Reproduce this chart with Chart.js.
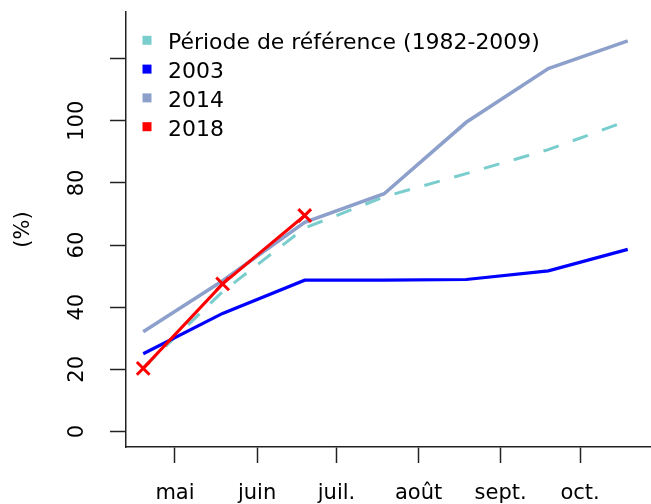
<!DOCTYPE html>
<html><head><meta charset="utf-8">
<script src="https://cdn.jsdelivr.net/npm/chart.js@4.4.1/dist/chart.umd.min.js"></script>
<style>html,body{margin:0;padding:0;background:#fff;overflow:hidden;} #wrap{width:651px;height:504px;}</style>
</head><body><div id="wrap"><canvas id="c" width="651" height="504"></canvas></div>
<script>
// x positions: day of year of each monthly value (about the 19th of Apr..Oct)
const dayOfYear = [109, 139, 170, 200, 231, 262, 292];
// month ticks (1st of month, day of year) and their labels
const monthTickDays = [121, 152, 182, 213, 244, 274];
const monthLabels = ['mai', 'juin', 'juil.', 'août', 'sept.', 'oct.'];
const yTicks = [0, 20, 40, 60, 80, 100, 120];
const yTickLabels = ['0', '20', '40', '60', '80', '100', ''];
const seriesNames = ['Période de référence (1982-2009)', '2003', '2014', '2018'];
const refValues = [20.5, 45, 65.5, 75.5, 83, 90.7, 100];
const values2003 = [25, 38, 48.7, 48.7, 48.9, 51.7, 58.6];
const values2014 = [32.1, 48.5, 67.3, 76.5, 99.5, 116.8, 125.7];
const values2018 = [20.3, 47.5, 69.5];
const seriesColors = ['#79CDCD', '#0000FF', '#8DA0CB', '#FF0000'];

const FONT = 'DejaVu Sans';
const pts = vals => vals.map((v, i) => ({x: dayOfYear[i], y: v}));

const legendPlugin = {
  id: 'rLegend',
  afterDatasetsDraw(chart) {
    const ctx = chart.ctx;
    ctx.save();
    ctx.font = '21px "' + FONT + '"';
    ctx.textBaseline = 'alphabetic';
    ctx.textAlign = 'left';
    chart.data.datasets.forEach((ds, i) => {
      const yc = 41.8 + i * 28.8;
      ctx.fillStyle = ds.legendColor;
      ctx.fillRect(142.5, yc - 6, 9, 9);
      ctx.fillStyle = '#000';
      ctx.save();
      ctx.translate(168, yc + 7.6);
      ctx.scale(1.045, 1);
      ctx.fillText(ds.label, 0, 0);
      ctx.restore();
    });
    ctx.restore();
  }
};

const noPad = s => { s.paddingTop = 0; s.paddingBottom = 0; s.paddingLeft = 0; s.paddingRight = 0; };

new Chart(document.getElementById('c'), {
  type: 'line',
  data: {
    datasets: [
      {label: seriesNames[0], data: pts(refValues), borderColor: seriesColors[0], legendColor: seriesColors[0],
       borderWidth: 3, borderDash: [16, 15], pointRadius: 0, order: 4, tension: 0, borderCapStyle: 'butt'},
      {label: seriesNames[1], data: pts(values2003), borderColor: seriesColors[1], legendColor: seriesColors[1],
       borderWidth: 3.2, pointRadius: 0, order: 3, tension: 0},
      {label: seriesNames[2], data: pts(values2014), borderColor: seriesColors[2], legendColor: seriesColors[2],
       borderWidth: 3.6, pointRadius: 0, order: 2, tension: 0},
      {label: seriesNames[3], data: pts(values2018), borderColor: seriesColors[3], legendColor: seriesColors[3],
       borderWidth: 3, pointStyle: 'crossRot', pointRadius: 9, pointBorderWidth: 3,
       pointBorderColor: seriesColors[3], order: 1, tension: 0}
    ]
  },
  options: {
    responsive: false,
    animation: false,
    devicePixelRatio: 1,
    layout: {autoPadding: false, padding: {top: 12, right: 1, left: 0, bottom: 0}},
    plugins: {legend: {display: false}, tooltip: {enabled: false}},
    scales: {
      x: {
        type: 'linear',
        min: 102.5, max: 300.4,
        afterBuildTicks: s => { s.ticks = monthTickDays.map(v => ({value: v})); },
        afterFit: s => { s.height = 57; noPad(s); },
        ticks: {
          autoSkip: false, maxRotation: 0, minRotation: 0,
          color: '#000', padding: 18,
          font: {family: FONT, size: 21},
          callback: (v) => { const i = monthTickDays.indexOf(v); return i >= 0 ? monthLabels[i] : ''; }
        },
        grid: {display: true, drawOnChartArea: false, drawTicks: true, tickLength: 16, tickColor: '#222', tickWidth: 1.5},
        border: {display: true, color: '#222', width: 1.5}
      },
      y: {
        type: 'linear',
        min: -5, max: 135,
        afterBuildTicks: s => { s.ticks = yTicks.map(v => ({value: v})); },
        afterFit: s => { s.width = 126; noPad(s); },
        title: {display: true, text: '(%)', color: '#000', font: {family: FONT, size: 21}, padding: {top: 11, bottom: 0}},
        ticks: {
          autoSkip: false, minRotation: 90, maxRotation: 90, crossAlign: 'center',
          color: '#000', padding: 12,
          font: {family: FONT, size: 21},
          callback: (v) => { const i = yTicks.indexOf(v); return i >= 0 ? yTickLabels[i] : ''; }
        },
        grid: {display: true, drawOnChartArea: false, drawTicks: true, tickLength: 16, tickColor: '#222', tickWidth: 1.5},
        border: {display: true, color: '#222', width: 1.5}
      }
    }
  },
  plugins: [legendPlugin]
});
</script>
</body></html>
